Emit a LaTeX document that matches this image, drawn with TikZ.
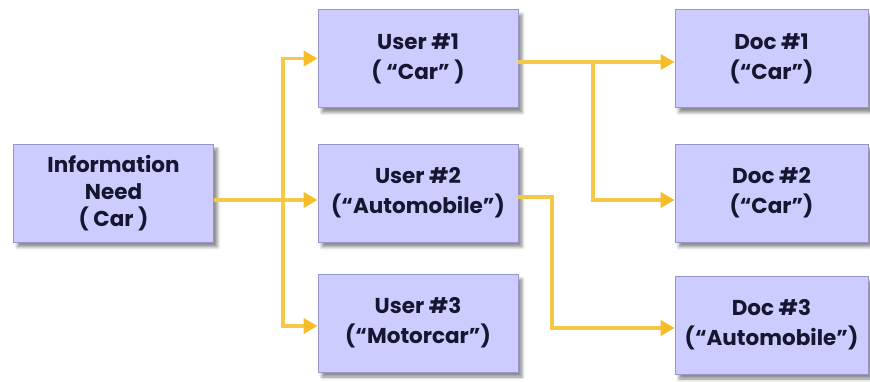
\documentclass[tikz,border=0pt]{standalone}
\usepackage{fontspec}
\newfontfamily\boxfont{Poppins}[UprightFont=*-Bold]
\usetikzlibrary{arrows.meta,shadows.blur}
\definecolor{boxfill}{RGB}{204,204,255}
\definecolor{boxedge}{RGB}{150,150,205}
\definecolor{boxtext}{RGB}{22,22,48}
\definecolor{wire}{RGB}{246,200,72}
\definecolor{wirehead}{RGB}{245,190,40}
\begin{document}
\begin{tikzpicture}[x=1pt,y=1pt,
  card/.style={draw=boxedge, line width=0.8pt, fill=boxfill,
    minimum width=200pt, minimum height=98pt, inner sep=0pt,
    align=center, text=boxtext,
    font=\boxfont\fontsize{21.5}{30}\selectfont,
    blur shadow={shadow xshift=4pt, shadow yshift=-5pt,
      shadow blur radius=3pt, shadow opacity=45}},
  tight/.style={font=\boxfont\fontsize{21.5}{27}\selectfont},
  wireline/.style={draw=wire, line width=3.5pt},
  wirearrow/.style={wireline, -{Triangle[length=14pt,width=15pt,color=wirehead]}}
]
\useasboundingbox (0,0) rectangle (870,381);

% boxes
\node[card, tight] (info) at (113.5,188) {Information\\Need\\( Car )};
\node[card] (u1) at (418,322.5) {User \#1\\( “Car” )};
\node[card] (u2) at (418,188) {User \#2\\(“Automobile”)};
\node[card] (u3) at (418,58) {User \#3\\(“Motorcar”)};
\node[card, minimum width=193pt] (d1) at (771.5,322.5) {Doc \#1\\(“Car”)};
\node[card, minimum width=193pt] (d2) at (771.5,188) {Doc \#2\\(“Car”)};
\node[card, minimum width=193pt] (d3) at (771.5,56) {Doc \#3\\(“Automobile”)};

% junctions
\coordinate (sp) at (283,181);
\coordinate (sp2) at (593,319);
\coordinate (c3) at (552,53);

% information need to users
\draw[wireline] (info.east |- sp) -- (sp);
\draw[wirearrow] (sp) |- (u1.west);
\draw[wirearrow] (sp) -- (u2.west |- sp);
\draw[wirearrow] (sp) |- ([yshift=-3pt]u3.west);

% users to documents
\draw[wirearrow] (u1.east |- sp2) -- (d1.west |- sp2);
\draw[wirearrow] (sp2) |- (d2.west |- sp);
\draw[wirearrow] ([yshift=-4pt]u2.east) -| (c3) -- (d3.west |- c3);
\end{tikzpicture}
\end{document}
